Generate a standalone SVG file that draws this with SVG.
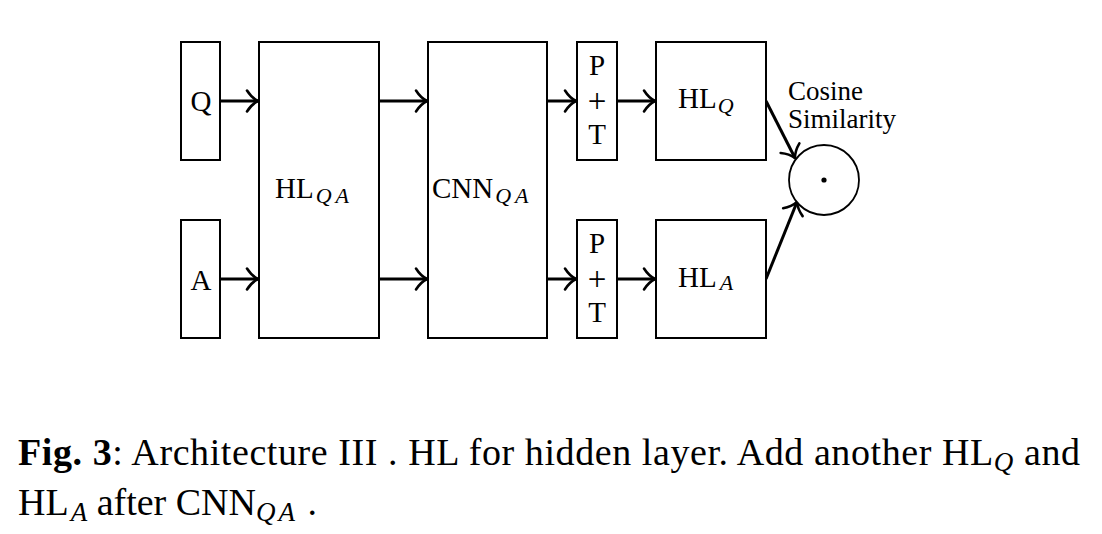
<svg xmlns="http://www.w3.org/2000/svg" width="1102" height="534" viewBox="0 0 1102 534">
<style>
.box{fill:#fff;stroke:#000;stroke-width:2}
.lbl{font-family:"Liberation Serif","Times New Roman",serif;font-size:29px;fill:#000}
.plus{font-size:33px}
.cs{font-size:27px}
.sub{font-style:italic;font-size:22px}
.cap{font-family:"Liberation Serif","Times New Roman",serif;font-size:38px;fill:#000}
.csub{font-style:italic;font-size:27px}
.arr{stroke:#000;stroke-width:3;fill:none;marker-end:url(#ah)}
</style>
<defs>
<marker id="ah" markerUnits="userSpaceOnUse" viewBox="-14 -12 16 24" markerWidth="16" markerHeight="24" refX="0" refY="0" orient="auto" overflow="visible">
<path d="M -11 -10.5 C -7.5 -5 -3 -1.5 0 0 C -3 1.5 -7.5 5 -11 10.5" fill="none" stroke="#000" stroke-width="2.6" stroke-linecap="round"/>
</marker>
</defs>
<rect width="1102" height="534" fill="#fff"/>
<g id="connectors">
<line class="arr" x1="220" y1="101" x2="258" y2="101"/>
<line class="arr" x1="220" y1="279" x2="258" y2="279"/>
<line class="arr" x1="379" y1="101" x2="427" y2="101"/>
<line class="arr" x1="379" y1="279" x2="427" y2="279"/>
<line class="arr" x1="547" y1="101" x2="576" y2="101"/>
<line class="arr" x1="547" y1="279" x2="576" y2="279"/>
<line class="arr" x1="617" y1="101" x2="655" y2="101"/>
<line class="arr" x1="617" y1="279" x2="655" y2="279"/>
<line class="arr" x1="766" y1="101" x2="795" y2="158"/>
<line class="arr" x1="766" y1="279" x2="797" y2="202"/>
</g>
<g id="node-q">
<rect class="box" x="181" y="42" width="39" height="118"/>
<text class="lbl" x="201" y="111" text-anchor="middle">Q</text>
</g>
<g id="node-a">
<rect class="box" x="181" y="220" width="39" height="118"/>
<text class="lbl" x="201" y="290" text-anchor="middle">A</text>
</g>
<g id="node-hlqa">
<rect class="box" x="259" y="42" width="120" height="296"/>
<text class="lbl" x="275" y="198">HL<tspan class="sub" dy="5" dx="2" letter-spacing="4">QA</tspan></text>
</g>
<g id="node-cnnqa">
<rect class="box" x="428" y="42" width="119" height="296"/>
<text class="lbl" x="432" y="198">CNN<tspan class="sub" dy="5" dx="2" letter-spacing="4">QA</tspan></text>
</g>
<g id="node-pt1">
<rect class="box" x="577" y="42" width="40" height="118"/>
<text class="lbl" x="597" y="75" text-anchor="middle">P</text>
<text class="lbl plus" x="597" y="112" text-anchor="middle">+</text>
<text class="lbl" x="597" y="144" text-anchor="middle">T</text>
</g>
<g id="node-pt2">
<rect class="box" x="577" y="220" width="40" height="118"/>
<text class="lbl" x="597" y="253" text-anchor="middle">P</text>
<text class="lbl plus" x="597" y="290" text-anchor="middle">+</text>
<text class="lbl" x="597" y="322" text-anchor="middle">T</text>
</g>
<g id="node-hlq">
<rect class="box" x="656" y="42" width="110" height="118"/>
<text class="lbl" x="678" y="108">HL<tspan class="sub" dy="5" dx="1">Q</tspan></text>
</g>
<g id="node-hla">
<rect class="box" x="656" y="220" width="110" height="118"/>
<text class="lbl" x="678" y="287">HL<tspan class="sub" dy="3" dx="3">A</tspan></text>
</g>
<g id="node-cos">
<circle cx="824" cy="180" r="35" fill="#fff" stroke="#000" stroke-width="1.8"/>
<circle cx="824" cy="180" r="2.6" fill="#000"/>
<text class="lbl cs" x="788" y="100">Cosine</text>
<text class="lbl cs" x="788" y="128">Similarity</text>
</g>
<g id="caption">
<text class="cap" x="18" y="465" textLength="1062" lengthAdjust="spacing"><tspan font-weight="bold">Fig. 3</tspan>: Architecture III . HL for hidden layer. Add another HL<tspan class="csub" dy="6">Q</tspan><tspan dy="-6"> and</tspan></text>
<text class="cap" x="18" y="515">HL<tspan class="csub" dy="6" dx="2">A</tspan><tspan dy="-6"> after CNN</tspan><tspan class="csub" dy="6" letter-spacing="3">QA</tspan><tspan dy="-6">  .</tspan></text>
</g>
</svg>
